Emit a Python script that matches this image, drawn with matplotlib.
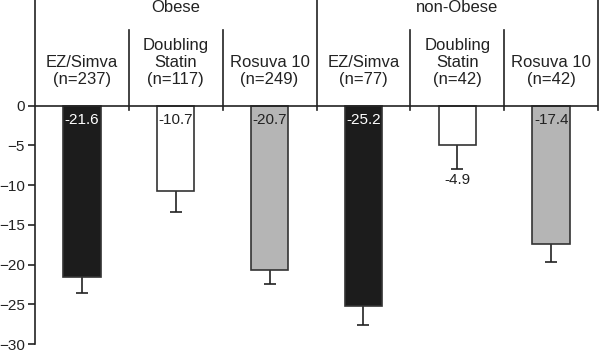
import numpy as np
import matplotlib
matplotlib.use("Agg")
import matplotlib.pyplot as plt

plt.rcParams['font.family'] = ['Liberation Sans', 'DejaVu Sans']

# data
groups = ["Obese", "non-Obese"]
treatments = ["EZ/Simva", "Doubling\nStatin", "Rosuva 10"]
n_obese = [237, 117, 249]
n_nonobese = [77, 42, 42]
values = [-21.6, -10.7, -20.7, -25.2, -4.9, -17.4]
errors = [2.0, 2.7, 1.8, 2.4, 3.1, 2.3]
colors = ["#1c1c1c", "#ffffff", "#b5b5b5"] * 2
label_colors = ["white", "#222222", "#222222"] * 2

fig = plt.figure(figsize=(6, 3.54), dpi=100)
ax = fig.add_axes([0.058, 0.028, 0.939, 0.972])

x = np.arange(len(values)) + 0.5
ax.bar(x, values, width=0.4, color=colors, edgecolor="#333333", linewidth=1.2, zorder=3)
ax.errorbar(x, values, yerr=errors, fmt="none", ecolor="#222222", elinewidth=1.2,
            capsize=4, capthick=1.2, zorder=2)

ax.set_xlim(0, 6)
ax.set_ylim(-30, 13.3)

# value labels
for i, v in enumerate(values):
    if v > -8:
        ax.text(x[i], v - errors[i] - 0.5, f"{v:.1f}", ha="center", va="top",
                fontsize=11, color=label_colors[i], zorder=5)
    else:
        ax.text(x[i], -0.9, f"{v:.1f}", ha="center", va="top",
                fontsize=11, color=label_colors[i], zorder=5)

# column headers
ns = n_obese + n_nonobese
for i in range(6):
    ax.text(x[i], 2.3, treatments[i % 3] + f"\n(n={ns[i]})", ha="center", va="bottom",
            fontsize=12, color="#222222", linespacing=1.2)

for g, name in enumerate(groups):
    ax.text(1.5 + 3 * g, 12.3, name, ha="center", va="center", fontsize=12, color="#222222")

# separators
for xs in [1, 2, 4, 5]:
    ax.plot([xs, xs], [-0.6, 9.5], color="#222222", lw=1.2, clip_on=False)
for xs in [3, 6]:
    ax.plot([xs, xs], [-0.6, 13.3], color="#222222", lw=1.2, clip_on=False)
ax.axhline(0, color="#222222", lw=1.2, zorder=4)

for s in ["top", "right", "bottom"]:
    ax.spines[s].set_visible(False)
ax.spines["left"].set_color("#222222")
ax.spines["left"].set_linewidth(1.2)
ax.set_xticks([])
ax.set_yticks(np.arange(-30, 1, 5))
ax.tick_params(axis="y", direction="out", length=5, width=1.2, labelsize=11,
               colors="#222222", pad=2)

fig.savefig("out.png", dpi=100)
